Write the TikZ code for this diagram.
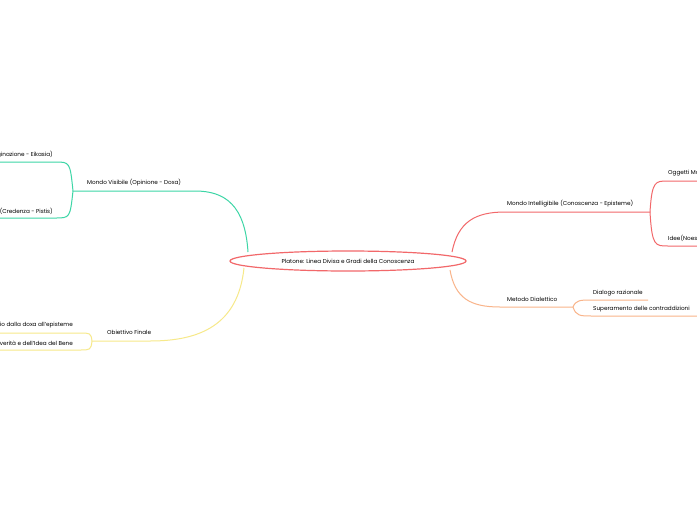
\documentclass[tikz,border=0pt]{standalone}
\usepackage{fontspec}
\setmainfont{Poppins}
\usetikzlibrary{shapes.geometric}
\begin{document}
\begin{tikzpicture}[x=1pt,y=-1pt,
  lbl/.style={font=\fontsize{5.7}{6.5}\selectfont,inner sep=0pt}]
\path[use as bounding box,fill=white] (0,0) rectangle (697,520);
\clip (0,0) rectangle (697,520);
\definecolor{cgreen}{HTML}{3DD6A6}
\definecolor{cyel}{HTML}{F7E98A}
\definecolor{cred}{HTML}{F2686A}
\definecolor{corg}{HTML}{F9B48A}
\tikzset{gr/.style={draw=cgreen,line width=1pt},ye/.style={draw=cyel,line width=1pt},rd/.style={draw=cred,line width=1pt},orr/.style={draw=corg,line width=1pt}}
% green
\coordinate (g0) at (248,252); \coordinate (g1) at (73,191);
\draw[gr] (g0) .. controls (245,205) and (225,191) .. (195,191) -- (g1);
\node[lbl,anchor=south west] (gl) at (87,186) {Mondo Visibile (Opinione - Doxa)};
\draw[gr] (g1) .. controls (70,162) and (70,162) .. (55,162) -- (0,162);
\draw[gr] (g1) .. controls (70,218) and (70,218) .. (55,218) -- (0,218);
\node[lbl,anchor=south east] (g2) at (53,158) {Immagini (Immaginazione - Eikasia)};
\node[lbl,anchor=south east] (g3) at (53,215) {Oggetti sensibili (Credenza - Pistis)};
% yellow
\coordinate (y0) at (244,268); \coordinate (y1) at (92,341);
\draw[ye] (y0) .. controls (238,325) and (200,341) .. (150,341) -- (y1);
\node[lbl,anchor=south west] (yl) at (107,335) {Obiettivo Finale};
\draw[ye] (y1) .. controls (91,333) and (90,333) .. (80,333) -- (0,333);
\draw[ye] (y1) .. controls (91,350) and (90,350) .. (80,350) -- (0,350);
\node[lbl,anchor=south east] (y2) at (73,328) {Passaggio dalla doxa all'episteme};
\node[lbl,anchor=south east] (y3) at (73,346) {Conoscenza della verità e dell'Idea del Bene};
% red
\coordinate (r0) at (452,252); \coordinate (r1) at (650,212);
\draw[rd] (r0) .. controls (458,222) and (475,212) .. (505,212) -- (r1);
\node[lbl,anchor=south west] (rl) at (507,207) {Mondo Intelligibile (Conoscenza - Episteme)};
\draw[rd] (r1) .. controls (652,181) and (655,181) .. (668,181) -- (697,181);
\draw[rd] (r1) .. controls (652,246) and (655,246) .. (668,246) -- (697,246);
\node[lbl,anchor=south west] (r2) at (668,176) {Oggetti Matematici (Pensiero - Dianoia)};
\node[lbl,anchor=south west] (r3) at (668,242) {Idee(Noesis)};
% orange
\coordinate (o0) at (450,270); \coordinate (o1) at (573,307);
\draw[orr] (o0) .. controls (455,298) and (470,307) .. (500,307) -- (o1);
\node[lbl,anchor=south west] (ol) at (507,302) {Metodo Dialettico};
\draw[orr] (o1) .. controls (576,300) and (580,300) .. (592,300) -- (648,300);
\draw[orr] (o1) .. controls (576,316) and (580,316) .. (592,316) -- (697,316);
\node[lbl,anchor=south west] (o2) at (593,296) {Dialogo razionale};
\node[lbl,anchor=south west] (o3) at (593,312) {Superamento delle contraddizioni};
% center
\node[draw=cred,line width=1.2pt,fill=white,ellipse,inner sep=0pt,minimum width=236pt,minimum height=20pt,font=\fontsize{5.7}{6.5}\selectfont] (c) at (348,261) {Platone: Linea Divisa e Gradi della Conoscenza};
\end{tikzpicture}
\end{document}
